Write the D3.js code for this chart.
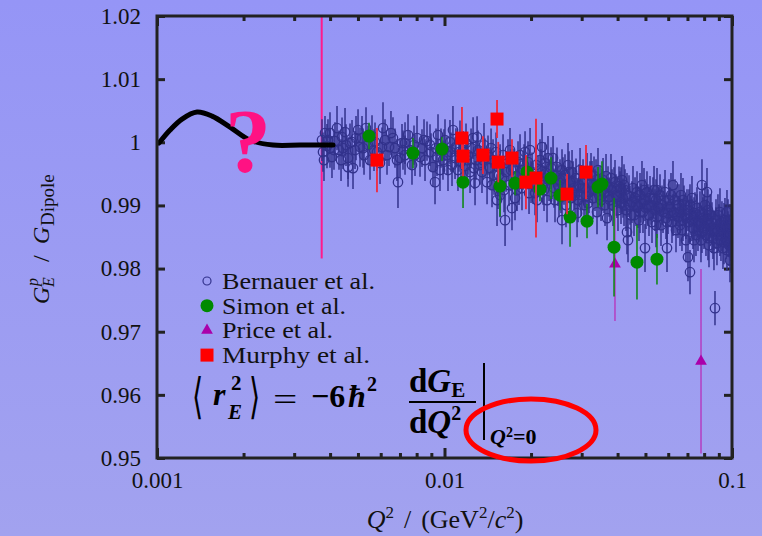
<!DOCTYPE html>
<html><head><meta charset="utf-8">
<script src="https://cdn.jsdelivr.net/npm/d3@7"></script>
<style>html,body{margin:0;padding:0;overflow:hidden;background:#9a9af2}svg{display:block}</style>
</head><body><svg id="c" width="762" height="536"></svg>
<script>
// ---------- data ----------
const xTickValues = [0.001, 0.01, 0.1];
const xTickLabels = ["0.001", "0.01", "0.1"];
const xMinorTicks = [0.002,0.003,0.004,0.005,0.006,0.007,0.008,0.009,0.02,0.03,0.04,0.05,0.06,0.07,0.08,0.09];
const yTickValues = [0.95, 0.96, 0.97, 0.98, 0.99, 1.00, 1.01, 1.02];
const yTickLabels = ["0.95", "0.96", "0.97", "0.98", "0.99", "1", "1.01", "1.02"];
const seriesNames = ["Bernauer et al.", "Simon et al.", "Price et al.", "Murphy et al."];

// Bernauer et al. : [Q2, GE/Gdip, error]
const bernauer = [
[0.003749,1.00035,0.0033],[0.003779,0.99845,0.0031],[0.003840,1.00146,0.0027],[0.003902,0.99940,0.0035],
[0.003997,1.00146,0.0033],[0.003997,0.99908,0.0031],[0.004061,0.99766,0.0033],[0.004161,1.00019,0.0030],
[0.004228,1.00225,0.0035],[0.004296,0.99877,0.0031],[0.004401,1.00083,0.0031],[0.004436,0.99908,0.0033],
[0.004508,1.00162,0.0038],[0.004618,0.99750,0.0033],[0.004618,0.99607,0.0031],[0.004692,0.99988,0.0031],
[0.004768,1.00004,0.0035],[0.004806,0.99591,0.0033],[0.004884,0.99877,0.0030],[0.005003,1.00194,0.0033],
[0.005083,0.99924,0.0031],[0.005165,1.00067,0.0035],[0.005249,0.99797,0.0031],[0.005333,1.00225,0.0033],
[0.005419,0.99956,0.0031],[0.005507,0.99718,0.0031],[0.005596,1.00099,0.0033],[0.005732,1.00004,0.0031],
[0.005825,0.99845,0.0030],[0.005966,0.99671,0.0033],[0.006111,1.00225,0.0041],[0.006210,1.00035,0.0033],
[0.006310,0.99797,0.0031],[0.006412,0.99924,0.0030],[0.006514,1.00146,0.0035],[0.006619,1.00067,0.0033],
[0.006726,0.99908,0.0031],[0.006890,0.99369,0.0041],[0.007002,0.99750,0.0031],[0.007115,0.99988,0.0030],
[0.007289,0.99988,0.0033],[0.007289,0.99797,0.0031],[0.007466,1.00114,0.0033],[0.007586,0.99877,0.0030],
[0.007708,0.99639,0.0031],[0.007833,0.99956,0.0031],[0.008024,1.00067,0.0035],[0.008219,0.99766,0.0031],
[0.008351,0.99908,0.0030],[0.008555,0.99718,0.0033],[0.008693,1.00019,0.0031],[0.008904,0.99956,0.0033],
[0.008975,0.99845,0.0030],[0.009120,0.99607,0.0031],[0.009268,0.99369,0.0035],[0.009418,0.99766,0.0030],
[0.009493,1.00114,0.0033],[0.009645,0.99560,0.0033],[0.009722,0.99908,0.0031],[0.009879,0.99718,0.0031],
[0.010040,1.00035,0.0033],[0.010202,0.99797,0.0030],[0.010284,0.99560,0.0033],[0.01045,1.00004,0.0035],
[0.01053,0.99845,0.0031],[0.01070,1.00194,0.0038],[0.01088,0.99750,0.0033],[0.01096,0.99924,0.0030],
[0.01114,0.99560,0.0033],[0.01132,1.00035,0.0031],[0.01141,0.99687,0.0031],[0.01160,0.99877,0.0030],
[0.01178,0.99623,0.0033],[0.01188,0.99988,0.0031],[0.01207,0.99797,0.0031],[0.01227,0.99528,0.0033],
[0.01237,0.99908,0.0031],[0.01257,1.00067,0.0033],[0.01277,0.99354,0.0035],[0.01287,0.99718,0.0031],
[0.01298,1.00083,0.0033],[0.01308,0.99877,0.0031],[0.01329,0.99639,0.0031],[0.01350,0.99528,0.0033],
[0.01372,0.99956,0.0035],[0.01383,0.99750,0.0031],[0.01406,0.99369,0.0035],[0.01417,0.99797,0.0031],
[0.01440,0.99591,0.0033],[0.01452,0.99908,0.0031],[0.01475,0.99718,0.0033],[0.01487,0.99480,0.0031],
[0.01511,0.99845,0.0031],[0.01523,0.99084,0.0041],[0.01535,0.99275,0.0033],[0.01560,0.99164,0.0035],
[0.01560,0.99639,0.0033],[0.01585,0.99433,0.0031],[0.01598,0.99797,0.0033],[0.01624,0.98767,0.0041],
[0.01637,0.99528,0.0031],[0.01663,0.99718,0.0033],[0.01677,0.99322,0.0033],[0.01690,0.99877,0.0035],
[0.01717,0.98958,0.0035],[0.01731,0.99591,0.0031],[0.01759,0.99116,0.0035],[0.01773,0.99465,0.0031],
[0.01802,0.99687,0.0033],[0.01816,0.99338,0.0033],[0.01831,0.99797,0.0033],[0.01860,0.99275,0.0035],
[0.01876,0.99560,0.0031],[0.01906,0.99845,0.0033],[0.01921,0.99433,0.0031],[0.01952,0.99687,0.0033],
[0.01968,0.99195,0.0033],[0.01984,0.99877,0.0035],[0.02016,0.99528,0.0031],[0.02032,0.99354,0.0033],
[0.02065,0.99195,0.0035],[0.02082,0.99639,0.0031],[0.02115,0.99465,0.0033],[0.02149,0.99718,0.0033],
[0.02184,0.99924,0.0038],[0.02201,0.99322,0.0031],[0.02237,0.99671,0.0033],[0.02255,0.99512,0.0031],
[0.02273,0.99084,0.0035],[0.02310,0.99401,0.0033],[0.02347,0.99591,0.0033],[0.02385,0.99750,0.0035],
[0.02404,0.99275,0.0031],[0.02443,0.99480,0.0033],[0.02462,0.99607,0.0031],[0.02502,0.99164,0.0035],
[0.02522,0.99401,0.0033],[0.02563,0.99560,0.0033],[0.02563,0.98767,0.0038],[0.02604,0.99322,0.0031],
[0.02625,0.99480,0.0033],[0.02668,0.99211,0.0033],[0.02689,0.99639,0.0035],[0.02733,0.99369,0.0033],
[0.02755,0.99116,0.0031],[0.02777,0.99528,0.0035],[0.02822,0.99275,0.0033],[0.02845,0.99164,0.0033],
[0.02867,0.99433,0.0031],[0.02891,0.98878,0.0038],[0.02937,0.99322,0.0033],[0.02961,0.99560,0.0035],
[0.02985,0.99164,0.0033],[0.03033,0.99401,0.0033],[0.03058,0.99005,0.0033],[0.03082,0.99275,0.0031],
[0.03132,0.99480,0.0035],[0.03157,0.99037,0.0033],[0.03182,0.99211,0.0033],[0.03207,0.99369,0.0033],
[0.03259,0.99354,0.0035],[0.03285,0.99116,0.0033],[0.03312,0.99465,0.0031],[0.03338,0.99243,0.0033],
[0.03392,0.98894,0.0035],[0.03419,0.99560,0.0035],[0.03447,0.99164,0.0033],[0.03475,0.99322,0.0031],
[0.03503,0.99084,0.0033],[0.03560,0.99401,0.0035],[0.03588,0.99211,0.0033],[0.03617,0.99005,0.0033],
[0.03676,0.98799,0.0035],[0.03705,0.99290,0.0033],[0.03735,0.99132,0.0031],[0.03794,0.99433,0.0038],
[0.03825,0.99243,0.0033],[0.03856,0.99005,0.0033],[0.03918,0.99369,0.0035],[0.03949,0.99164,0.0033],
[0.03981,0.99132,0.0033],[0.04013,0.98926,0.0033],[0.04046,0.99306,0.0031],[0.04078,0.99211,0.0033],
[0.04111,0.99037,0.0033],[0.04144,0.99401,0.0038],[0.04177,0.99116,0.0031],[0.04245,0.99243,0.0033],
[0.04211,0.99322,0.0033],[0.04279,0.98926,0.0033],[0.04313,0.98577,0.0035],[0.04348,0.98450,0.0035],
[0.04383,0.99148,0.0033],[0.04418,0.99005,0.0031],[0.04489,0.99053,0.0033],[0.04525,0.99275,0.0035],
[0.04562,0.98846,0.0033],[0.04599,0.99116,0.0033],[0.04673,0.99211,0.0033],[0.04710,0.98973,0.0033],
[0.04748,0.98767,0.0033],[0.04786,0.99164,0.0035],[0.04824,0.99037,0.0031],[0.04863,0.99322,0.0038],
[0.04902,0.98894,0.0033],[0.04982,0.99084,0.0033],[0.04982,0.98324,0.0038],[0.05022,0.98958,0.0033],
[0.05062,0.99211,0.0033],[0.05144,0.98846,0.0033],[0.05186,0.99116,0.0035],[0.05227,0.99005,0.0031],
[0.05269,0.98736,0.0033],[0.05355,0.99243,0.0038],[0.05398,0.98926,0.0033],[0.05441,0.99084,0.0033],
[0.05485,0.99243,0.0035],[0.05485,0.98815,0.0033],[0.05529,0.98973,0.0033],[0.05618,0.99164,0.0033],
[0.05663,0.98688,0.0033],[0.05709,0.99005,0.0031],[0.05755,0.98894,0.0033],[0.05848,0.99211,0.0035],
[0.05894,0.98799,0.0033],[0.05942,0.98324,0.0038],[0.05990,0.98878,0.0033],[0.06038,0.99084,0.0033],
[0.06086,0.98973,0.0031],[0.06184,0.98736,0.0033],[0.06234,0.99322,0.0038],[0.06284,0.98894,0.0033],
[0.06335,0.99084,0.0033],[0.06386,0.98609,0.0035],[0.06489,0.98815,0.0033],[0.06541,0.99005,0.0033],
[0.06593,0.98894,0.0033],[0.06646,0.99164,0.0035],[0.06699,0.98609,0.0033],[0.06753,0.98767,0.0033],
[0.06808,0.99005,0.0031],[0.06863,0.98846,0.0033],[0.06917,0.98450,0.0035],[0.06973,0.98926,0.0033],
[0.07029,0.98181,0.0038],[0.07086,0.98736,0.0033],[0.07143,0.97943,0.0035],[0.07143,0.99005,0.0033],
[0.07200,0.98846,0.0031],[0.07258,0.99116,0.0035],[0.07317,0.98641,0.0033],[0.07376,0.98799,0.0033],
[0.07435,0.98878,0.0033],[0.07494,0.98530,0.0033],[0.07555,0.98958,0.0033],[0.07616,0.98609,0.0033],
[0.07677,0.98736,0.0031],[0.07738,0.98894,0.0033],[0.07800,0.98450,0.0035],[0.07863,0.99322,0.0041],
[0.07926,0.98799,0.0033],[0.07990,0.98641,0.0033],[0.08054,0.99005,0.0035],[0.08119,0.98530,0.0033],
[0.08185,0.99211,0.0038],[0.08185,0.98767,0.0033],[0.08250,0.98926,0.0033],[0.08317,0.98371,0.0035],
[0.08383,0.98688,0.0033],[0.08450,0.98846,0.0033],[0.08518,0.98720,0.0033],[0.08587,0.98482,0.0033],
[0.08656,0.98609,0.0031],[0.08726,0.97373,0.0027],[0.08796,0.98767,0.0033],[0.08866,0.98403,0.0035],
[0.08937,0.98577,0.0033],[0.09009,0.98688,0.0033],[0.09082,0.98894,0.0038],[0.09155,0.98450,0.0033],
[0.09228,0.98609,0.0033],[0.09303,0.98324,0.0033],[0.09378,0.98688,0.0035],[0.09453,0.98767,0.0035],
[0.09529,0.98482,0.0033],[0.09606,0.98292,0.0033],[0.09606,0.98894,0.0035],[0.09684,0.98577,0.0033],
[0.09762,0.98371,0.0033],[0.09840,0.98133,0.0035],[0.09840,0.98688,0.0033],[0.09919,0.98450,0.0033],
[0.09919,0.98260,0.0033],
[0.003809,0.99718,0.0033],[0.003933,1.00035,0.0033],[0.004127,0.99877,0.0031],[0.004366,0.99718,0.0033],
[0.004544,0.99956,0.0033],[0.004923,1.00067,0.0035],[0.005207,0.99908,0.0031],[0.005686,0.99877,0.0033],
[0.006062,0.99924,0.0031],[0.006835,0.99718,0.0033],[0.007172,0.99877,0.0031],[0.007896,0.99797,0.0033],
[0.008487,1.00035,0.0033],[0.009342,0.99908,0.0031],[0.009959,0.99877,0.0033],[0.01062,0.99639,0.0033],
[0.01123,0.99845,0.0031],[0.01197,0.99718,0.0033],[0.01267,0.99591,0.0033],[0.01361,0.99718,0.0031],
[0.01463,0.99322,0.0035],[0.01548,0.99480,0.0033],[0.01611,0.99243,0.0035],[0.01704,0.99560,0.0033],
[0.01788,0.99243,0.0033],[0.01891,0.99639,0.0033],[0.02000,0.99369,0.0033],[0.02098,0.99084,0.0035],
[0.02166,0.99560,0.0033],[0.02219,0.99243,0.0033],[0.02291,0.99750,0.0035],[0.02366,0.99433,0.0033],
[0.02423,0.99084,0.0035],[0.02482,0.99322,0.0033],[0.02542,0.99211,0.0033],[0.02583,0.99433,0.0033],
[0.02646,0.99005,0.0035],[0.02711,0.99528,0.0033],[0.02799,0.99369,0.0033],[0.02914,0.99084,0.0035],
[0.03009,0.99275,0.0033],[0.03107,0.99148,0.0033],[0.03233,0.99480,0.0035],[0.03365,0.99401,0.0033],
[0.03531,0.99243,0.0033],[0.03646,0.99465,0.0035],[0.03764,0.99084,0.0033],[0.03887,0.99275,0.0033],
[0.04111,0.99275,0.0033],[0.04211,0.99005,0.0033],[0.04313,0.99164,0.0035],[0.04453,0.98846,0.0033],
[0.04635,0.99005,0.0033],[0.04786,0.98894,0.0033],[0.04942,0.99243,0.0035],[0.05103,0.99005,0.0033],
[0.05312,0.99116,0.0033],[0.05441,0.98688,0.0035],[0.05574,0.98958,0.0033],[0.05801,0.99084,0.0033],
[0.05942,0.98736,0.0033],[0.06135,0.99164,0.0035],[0.06234,0.98846,0.0033],[0.06437,0.99005,0.0033],
[0.06593,0.98688,0.0033],[0.06753,0.99084,0.0035],[0.06917,0.98799,0.0033],[0.07086,0.98926,0.0033],
[0.07258,0.98767,0.0033],[0.07376,0.98450,0.0035],[0.07555,0.98846,0.0033],[0.07738,0.98688,0.0033],
[0.07863,0.98577,0.0033],[0.07990,0.98846,0.0033],[0.08119,0.98736,0.0033],[0.08250,0.98482,0.0035],
[0.08383,0.98846,0.0033],[0.08518,0.98577,0.0033],[0.08656,0.98324,0.0035],[0.08796,0.98641,0.0033],
[0.08937,0.98846,0.0033],[0.09082,0.98530,0.0033],[0.09228,0.98736,0.0033],[0.09378,0.98419,0.0035],
[0.09529,0.98641,0.0033],[0.09684,0.98767,0.0033],[0.09762,0.98530,0.0033],[0.09919,0.98641,0.0033]
];

// Simon et al.
const simonQ   = [0.005463,0.007770,0.009802,0.01160,0.01560,0.01759,0.01936,0.02148,0.02347,0.02522,0.02733,0.03131,0.03420,0.03530,0.03888,0.04672,0.05483];
const simonG   = [1.00098,0.99829,0.99892,0.99369,0.99306,0.99353,0.99528,0.99258,0.99433,0.99163,0.98815,0.98751,0.99290,0.99338,0.98339,0.98101,0.98149];
const simonErr = [0.0021,0.0024,0.0019,0.0041,0.0048,0.0019,0.0024,0.0019,0.0033,0.0024,0.0047,0.0027,0.0032,0.0036,0.0078,0.0059,0.0040];

// Price et al.
const priceQ   = [0.03917, 0.07802];
const priceG   = [0.98070, 0.96532];
const priceErr = [0.0090, 0.0146];

// Murphy et al.
const murphyQ   = [0.005823,0.01150,0.01160,0.01361,0.01523,0.01538,0.01717,0.01920,0.02081,0.02668,0.03106];
const murphyG   = [0.99718,1.00067,0.99781,0.99797,1.00368,0.99686,0.99750,0.99369,0.99433,0.99179,0.99528];
const murphyErr = [0.0051,0.0049,0.0032,0.0030,0.0030,0.0032,0.0030,0.0043,0.0094,0.0032,0.0043];

// hypothetical curve towards Q2 = 0
const curveQ = [0.001016,0.001110,0.001222,0.001378,0.001554,0.001795,0.002106,0.002532,0.003144,0.004095];
const curveG = [0.99988,1.00194,1.00368,1.00479,1.00415,1.00241,1.00035,0.99956,0.99956,0.99956];

// marker of the lowest measured Q2
const cutQ = 0.00374;

// ---------- drawing ----------
const W = 762, H = 536;
const svg = d3.select("#c");
const defs = svg.append("defs");
const grad = defs.append("linearGradient").attr("id","bg").attr("x1",0).attr("y1",0).attr("x2",0).attr("y2",1);
grad.append("stop").attr("offset","0%").attr("stop-color","#9595f6");
grad.append("stop").attr("offset","100%").attr("stop-color","#a2a2ef");
svg.append("rect").attr("width",W).attr("height",H).attr("fill","url(#bg)");

const m = {l:157, r:732, t:16, b:458};
const x = d3.scaleLog().domain([0.001, 0.1]).range([m.l, m.r]);
const y = d3.scaleLinear().domain([0.95, 1.02]).range([m.b, m.t]);

defs.append("clipPath").attr("id","clip").append("rect")
  .attr("x",m.l).attr("y",m.t).attr("width",m.r-m.l).attr("height",m.b-m.t);

const serif = "'Liberation Serif','Times New Roman',serif";
const frameCol = "#222";

function styleAxis(g){
  g.attr("font-family",null);
  g.select(".domain").remove();
  g.selectAll(".tick line").attr("stroke",frameCol).attr("stroke-width",3);
  g.selectAll("text").attr("fill","#111").attr("font-family",serif).style("font-family",serif).style("font-size","23px");
}

svg.append("g").attr("transform",`translate(${m.l},0)`)
  .call(d3.axisLeft(y).tickValues(yTickValues).tickSize(-8).tickPadding(16).tickFormat((d,i)=>yTickLabels[i]))
  .call(styleAxis);
svg.append("g").attr("transform",`translate(${m.r},0)`)
  .call(d3.axisRight(y).tickValues(yTickValues).tickSize(-8).tickFormat(""))
  .call(styleAxis);
svg.append("g").attr("transform",`translate(0,${m.b})`)
  .call(d3.axisBottom(x).tickValues(xTickValues).tickSize(-10).tickPadding(14).tickFormat((d,i)=>xTickLabels[i]))
  .call(styleAxis);
svg.append("g").attr("transform",`translate(0,${m.b})`)
  .call(d3.axisBottom(x).tickValues(xMinorTicks).tickSize(-5).tickFormat(""))
  .call(styleAxis);
svg.append("g").attr("transform",`translate(0,${m.t})`)
  .call(d3.axisTop(x).tickValues(xTickValues).tickSize(-10).tickFormat(""))
  .call(styleAxis);
svg.append("g").attr("transform",`translate(0,${m.t})`)
  .call(d3.axisTop(x).tickValues(xMinorTicks).tickSize(-5).tickFormat(""))
  .call(styleAxis);

const plot = svg.append("g").attr("clip-path","url(#clip)");

// vertical marker line
plot.append("line").attr("x1",x(cutQ)).attr("x2",x(cutQ)).attr("y1",m.t).attr("y2",y(0.9816))
  .attr("stroke","#ff1a8c").attr("stroke-width",2);

// Bernauer
const blue = "#32328c";
const gB = plot.append("g");
gB.selectAll("line").data(bernauer).join("line")
  .attr("x1",d=>x(d[0])).attr("x2",d=>x(d[0]))
  .attr("y1",d=>y(d[1]-d[2])).attr("y2",d=>y(d[1]+d[2]))
  .attr("stroke",blue).attr("stroke-width",1.5);
gB.selectAll("circle").data(bernauer).join("circle")
  .attr("cx",d=>x(d[0])).attr("cy",d=>y(d[1])).attr("r",4.7)
  .attr("fill","none").attr("stroke",blue).attr("stroke-width",1.3);

// Price
const price = priceQ.map((q,i)=>({q, g:priceG[i], e:priceErr[i]}));
const gP = plot.append("g");
gP.selectAll("line").data(price).join("line")
  .attr("x1",d=>x(d.q)).attr("x2",d=>x(d.q)).attr("y1",d=>y(d.g-d.e)).attr("y2",d=>y(d.g+d.e))
  .attr("stroke","#b344c4").attr("stroke-width",1.6);
gP.selectAll("path").data(price).join("path")
  .attr("d",d3.symbol(d3.symbolTriangle,60))
  .attr("transform",d=>`translate(${x(d.q)},${y(d.g)})`).attr("fill","#aa00aa");

// Simon
const simon = simonQ.map((q,i)=>({q, g:simonG[i], e:simonErr[i]}));
const gS = plot.append("g");
gS.selectAll("line").data(simon).join("line")
  .attr("x1",d=>x(d.q)).attr("x2",d=>x(d.q)).attr("y1",d=>y(d.g-d.e)).attr("y2",d=>y(d.g+d.e))
  .attr("stroke","#12881a").attr("stroke-width",1.6);
gS.selectAll("circle").data(simon).join("circle")
  .attr("cx",d=>x(d.q)).attr("cy",d=>y(d.g)).attr("r",6.5).attr("fill","#008a00");

// Murphy
const murphy = murphyQ.map((q,i)=>({q, g:murphyG[i], e:murphyErr[i]}));
const gM = plot.append("g");
gM.selectAll("line").data(murphy).join("line")
  .attr("x1",d=>x(d.q)).attr("x2",d=>x(d.q)).attr("y1",d=>y(d.g-d.e)).attr("y2",d=>y(d.g+d.e))
  .attr("stroke","#f0283c").attr("stroke-width",1.8);
gM.selectAll("rect").data(murphy).join("rect")
  .attr("x",d=>x(d.q)-6.5).attr("y",d=>y(d.g)-6.5).attr("width",13).attr("height",13).attr("fill","#ff0000");

// hypothetical curve
const curve = curveQ.map((q,i)=>[q, curveG[i]]);
svg.append("path").datum(curve)
  .attr("d", d3.line().x(d=>x(d[0])).y(d=>y(d[1])).curve(d3.curveCatmullRom))
  .attr("fill","none").attr("stroke","#000").attr("stroke-width",5).attr("stroke-linecap","round").attr("stroke-linejoin","round");

// question mark
svg.append("text").attr("x",248).attr("y",172).attr("text-anchor","middle")
  .style("font-family",serif).style("font-weight","bold").style("font-size","92px").attr("fill","#ff1283").text("?");

// frame
svg.append("rect").attr("x",m.l).attr("y",m.t).attr("width",m.r-m.l).attr("height",m.b-m.t)
  .attr("fill","none").attr("stroke",frameCol).attr("stroke-width",3);

// legend
const legX = 207, legY0 = 281, legDy = 24.7;
const legLen = [153, 124, 111, 148];
const leg = svg.append("g");
seriesNames.forEach((n,i)=>{
  const cy = legY0 + i*legDy;
  if(i===0) leg.append("circle").attr("cx",legX).attr("cy",cy).attr("r",4).attr("fill","none").attr("stroke",blue).attr("stroke-width",1.2);
  if(i===1) leg.append("circle").attr("cx",legX).attr("cy",cy).attr("r",6.5).attr("fill","#008a00");
  if(i===2) leg.append("path").attr("d",d3.symbol(d3.symbolTriangle,60)).attr("transform",`translate(${legX},${cy})`).attr("fill","#aa00aa");
  if(i===3) leg.append("rect").attr("x",legX-6.5).attr("y",cy-6.5).attr("width",13).attr("height",13).attr("fill","#ff0000");
  leg.append("text").attr("x",222).attr("y",cy+8).attr("textLength",legLen[i]).attr("lengthAdjust","spacingAndGlyphs")
    .style("font-family",serif).style("font-size","24px").attr("fill","#111").text(n);
});

// x-axis title
const xt = svg.append("text").attr("x",445).attr("y",528).attr("text-anchor","middle")
  .style("font-family",serif).style("font-size","26px").attr("fill","#111");
xt.append("tspan").style("font-style","italic").text("Q");
xt.append("tspan").attr("dy",-10).style("font-size","17px").text("2");
xt.append("tspan").attr("dy",10).attr("dx",10).text("/");
xt.append("tspan").attr("dx",10).text("(GeV");
xt.append("tspan").attr("dy",-10).style("font-size","17px").text("2");
xt.append("tspan").attr("dy",10).text("/");
xt.append("tspan").style("font-style","italic").text("c");
xt.append("tspan").attr("dy",-10).style("font-size","17px").text("2");
xt.append("tspan").attr("dy",10).text(")");

// y-axis title (rotated)
const yt = svg.append("g").attr("transform","translate(49,304) rotate(-90)")
  .style("font-family",serif).attr("fill","#111");
yt.append("text").attr("x",0).attr("y",0).style("font-size","24px").style("font-style","italic").text("G");
yt.append("text").attr("x",17).attr("y",5).style("font-size","16px").style("font-style","italic").text("E");
yt.append("text").attr("x",18).attr("y",-11).style("font-size","16px").style("font-style","italic").text("p");
yt.append("text").attr("x",42).attr("y",0).style("font-size","24px").text("/");
yt.append("text").attr("x",60).attr("y",0).style("font-size","24px").style("font-style","italic").text("G");
yt.append("text").attr("x",78).attr("y",5).style("font-size","19px").text("Dipole");

// formula
const fm = svg.append("g").style("font-family",serif).attr("fill","#000");
fm.append("text").attr("transform","translate(192,413) scale(0.8,1.35)").style("font-family","'DejaVu Serif',serif").style("font-size","36px").text("\u27E8");
fm.append("text").attr("x",213).attr("y",405).style("font-size","32px").style("font-weight","bold").style("font-style","italic").text("r");
fm.append("text").attr("x",231).attr("y",390).style("font-size","21px").style("font-weight","bold").text("2");
fm.append("text").attr("x",228).attr("y",419).style("font-size","21px").style("font-weight","bold").style("font-style","italic").text("E");
fm.append("text").attr("transform","translate(249,413) scale(0.8,1.35)").style("font-family","'DejaVu Serif',serif").style("font-size","36px").text("\u27E9");
fm.append("text").attr("transform","translate(273,410) scale(1.35,1)").style("font-size","32px").text("=");
fm.append("text").attr("x",311).attr("y",407).style("font-size","32px").style("font-weight","bold").text("\u22126");
fm.append("text").attr("x",348).attr("y",407).style("font-size","32px").style("font-weight","bold").style("font-style","italic").text("\u0127");
fm.append("text").attr("x",367).attr("y",391).style("font-size","20px").style("font-weight","bold").text("2");
const num = fm.append("text").attr("x",409).attr("y",392).style("font-size","33px").style("font-weight","bold");
num.append("tspan").text("d");
num.append("tspan").style("font-style","italic").text("G");
num.append("tspan").attr("dy",5).style("font-size","21px").text("E");
fm.append("line").attr("x1",409).attr("x2",476).attr("y1",402).attr("y2",402).attr("stroke","#000").attr("stroke-width",2);
const den = fm.append("text").attr("x",409).attr("y",433).style("font-size","33px").style("font-weight","bold");
den.append("tspan").text("d");
den.append("tspan").style("font-style","italic").text("Q");
den.append("tspan").attr("dy",-13).style("font-size","20px").text("2");
fm.append("line").attr("x1",484).attr("x2",484).attr("y1",363).attr("y2",440).attr("stroke","#000").attr("stroke-width",2);
const sub = fm.append("text").attr("x",490).attr("y",444).style("font-size","22px").style("font-weight","bold");
sub.append("tspan").style("font-style","italic").text("Q");
sub.append("tspan").attr("dy",-7).style("font-size","14px").text("2");
sub.append("tspan").attr("dy",7).text("=0");

// red ellipse
svg.append("ellipse").attr("cx",531).attr("cy",430).attr("rx",65).attr("ry",31)
  .attr("fill","none").attr("stroke","#ff0000").attr("stroke-width",5);
</script></body></html>
